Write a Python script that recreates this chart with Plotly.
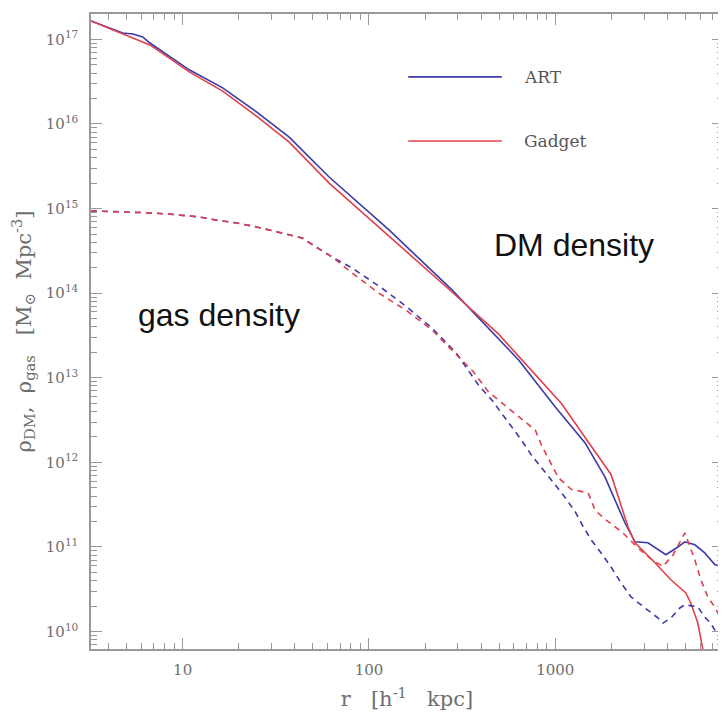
import plotly.graph_objects as go

# ---------------- data ----------------
# Dark matter density profiles
r_dm_art = [3.22, 4.77, 5.41, 6.1, 6.67, 10.9, 16.4, 24.9, 37.3, 61.1, 128, 278, 634,
            1000, 1445, 1849, 2366, 2678, 3142, 3924, 4549, 4958, 5610, 6340, 7175, 7910]
rho_dm_art = [1.65e17, 1.19e17, 1.16e17, 1.07e17, 9.06e16, 4.34e16, 2.67e16, 1.39e16,
              7.0e15, 2.36e15, 5.6e14, 1.10e14, 1.63e13, 4.5e12, 1.70e12, 6.7e11,
              1.92e11, 1.15e11, 1.12e11, 8.1e10, 1.0e11, 1.15e11, 1.06e11, 8.5e10,
              6.2e10, 5.8e10]

r_dm_gad = [3.22, 4.77, 6.67, 10.9, 16.4, 24.9, 37.3, 61.1, 128, 278, 495, 718, 1076,
            1500, 1991, 2455, 2678, 3428, 4170, 5020, 5334, 5820, 6180, 6500]
rho_dm_gad = [1.65e17, 1.16e17, 8.6e16, 4.1e16, 2.45e16, 1.24e16, 6.1e15, 2.0e15,
              4.75e14, 1.04e14, 3.3e13, 1.35e13, 5.0e12, 1.75e12, 7.2e11, 1.73e11,
              1.12e11, 6.5e10, 4.1e10, 2.86e10, 2.18e10, 1.26e10, 6.3e9, 3.0e9]

# Gas density profiles (common inner part, then each code)
r_gas_inner = [3.22, 5.21, 6.67, 8.51, 10.5, 12.3, 15.2, 19.5, 24.9, 29.2, 37.3, 43.8,
               52.1, 63.4]
rho_gas_inner = [9.4e14, 9.1e14, 8.9e14, 8.6e14, 8.2e14, 7.95e14, 7.3e14, 6.75e14,
                 6.07e14, 5.6e14, 4.87e14, 4.49e14, 3.5e14, 2.68e14]

r_gas_art_outer = [81, 117, 158, 217, 292, 387, 455, 561, 658, 744, 842, 952, 1104, 1280,
                   1413, 1560, 1763, 1991, 2253, 2548, 3027, 3556, 3784, 4170, 4660,
                   4958, 5820, 6340, 6820, 7440]
rho_gas_art_outer = [1.99e14, 1.15e14, 7.0e13, 3.9e13, 2.0e13, 8.2e12, 5.5e12, 2.9e12,
                     1.84e12, 1.22e12, 8.8e11, 6.2e11, 4.1e11, 2.6e11, 1.73e11, 1.21e11,
                     8.5e10, 5.8e10, 3.76e10, 2.57e10, 1.9e10, 1.45e10, 1.26e10, 1.45e10,
                     1.9e10, 2.07e10, 1.96e10, 1.48e10, 1.26e10, 9.1e9]

r_gas_gad_outer = [81, 113, 158, 217, 278, 364, 438, 561, 658, 782, 842, 918, 1038, 1218,
                   1500, 1636, 1875, 2313, 2780, 3342, 3784, 4277, 4958, 5610, 6040,
                   6580, 7175, 7910]
rho_gas_gad_outer = [1.74e14, 1.0e14, 6.3e13, 3.7e13, 2.14e13, 1.17e13, 6.8e12, 4.4e12,
                     3.3e12, 2.4e12, 1.6e12, 1.12e12, 6.6e11, 4.8e11, 4.36e11, 2.7e11,
                     2.08e11, 1.46e11, 9.7e10, 6.9e10, 5.9e10, 8.0e10, 1.47e11, 7.0e10,
                     4.1e10, 2.57e10, 1.95e10, 1.29e10]

# Axis ticks
x_tickvals = [10, 100, 1000]
x_ticktext = ["10", "100", "1000"]
x_minor = [4, 5, 6, 7, 8, 9, 20, 30, 40, 50, 60, 70, 80, 90,
           200, 300, 400, 500, 600, 700, 800, 900, 2000, 3000, 4000, 5000, 6000, 7000]
y_exps = [10, 11, 12, 13, 14, 15, 16, 17]
y_tickvals = [10.0 ** e for e in y_exps]
y_ticktext = ["10<sup>%d</sup>" % e for e in y_exps]
y_minor = [m * 10.0 ** e for e in range(9, 18) for m in range(2, 10)]

series_names = ["ART", "Gadget"]
ART_COLOR = "#3a3aa8"
GAD_COLOR = "#e0404c"
AXIS_COLOR = "#9a9a9a"
TEXT_COLOR = "#6e6e6e"
SERIF = "DejaVu Serif, Liberation Serif, serif"

fig = go.Figure()
fig.add_trace(go.Scatter(x=r_dm_art, y=rho_dm_art, mode="lines", name="ART",
                         line=dict(color=ART_COLOR, width=1.6)))
fig.add_trace(go.Scatter(x=r_dm_gad, y=rho_dm_gad, mode="lines", name="Gadget",
                         line=dict(color=GAD_COLOR, width=1.6)))
fig.add_trace(go.Scatter(x=r_gas_inner + r_gas_art_outer,
                         y=rho_gas_inner + rho_gas_art_outer, mode="lines",
                         line=dict(color=ART_COLOR, width=1.6, dash="6px,5px")))
fig.add_trace(go.Scatter(x=r_gas_inner + r_gas_gad_outer,
                         y=rho_gas_inner + rho_gas_gad_outer, mode="lines",
                         line=dict(color=GAD_COLOR, width=1.6, dash="6px,5px")))

axis_common = dict(
    showline=True, linecolor=AXIS_COLOR, linewidth=1.5, mirror="allticks",
    ticks="inside", ticklen=11, tickwidth=1, tickcolor=AXIS_COLOR,
    showgrid=False, zeroline=False, automargin=False,
    tickfont=dict(family=SERIF, size=15, color=TEXT_COLOR),
)

# the page body adds an 8px offset, so the figure is sized to compensate
fig.update_layout(
    width=718, height=706,
    margin=dict(l=83, r=3, t=6, b=65),
    paper_bgcolor="white", plot_bgcolor="white",
    showlegend=False,
    xaxis=dict(type="log", range=[0.508, 3.9], tickvals=x_tickvals, ticktext=x_ticktext,
               minor=dict(ticks="inside", ticklen=6, tickcolor=AXIS_COLOR, tickvals=x_minor),
               title=dict(text="r   [h<sup>-1</sup>   kpc]", standoff=14,
                          font=dict(family=SERIF, size=21, color=TEXT_COLOR)),
               ticklabelstandoff=6,
               **axis_common),
    yaxis=dict(type="log", range=[9.794, 17.30], tickvals=y_tickvals, ticktext=y_ticktext,
               minor=dict(ticks="inside", ticklen=6, tickcolor=AXIS_COLOR, tickvals=y_minor),
               title=dict(text="ρ<sub>DM</sub>,  ρ<sub>gas</sub>   [M<sub>⊙</sub>  Mpc<sup>-3</sup>]",
                          standoff=12, font=dict(family=SERIF, size=21, color=TEXT_COLOR)),
               ticklabelstandoff=8,
               **axis_common),
)

# Legend drawn as paper-positioned samples
legend_y = [0.901, 0.800]
legend_colors = [ART_COLOR, GAD_COLOR]
for name, ly, col in zip(series_names, legend_y, legend_colors):
    fig.add_shape(type="line", xref="paper", yref="paper", x0=0.502, x1=0.650,
                  y0=ly, y1=ly, line=dict(color=col, width=1.6))
    fig.add_annotation(xref="paper", yref="paper", x=0.682, y=ly, text=name,
                       showarrow=False, xanchor="left", yanchor="middle",
                       font=dict(family=SERIF, size=17, color="#555555"))

fig.add_annotation(xref="paper", yref="paper", x=0.764, y=0.636, text="DM density",
                   showarrow=False, xanchor="center", yanchor="middle",
                   font=dict(family="Liberation Sans, Arial, sans-serif", size=32, color="#111111"))
fig.add_annotation(xref="paper", yref="paper", x=0.2025, y=0.526, text="gas density",
                   showarrow=False, xanchor="center", yanchor="middle",
                   font=dict(family="Liberation Sans, Arial, sans-serif", size=32, color="#111111"))

fig.write_html("out.html")
